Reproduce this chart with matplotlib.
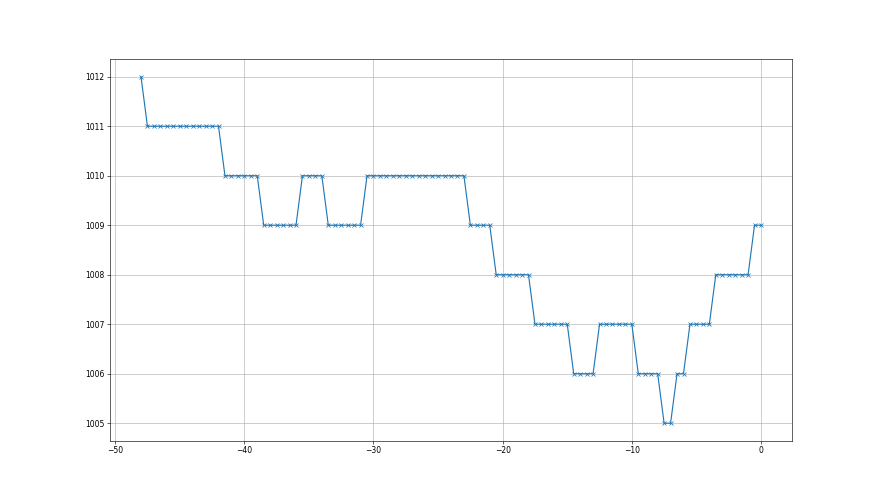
import numpy as np
import matplotlib
matplotlib.use("Agg")
import matplotlib.pyplot as plt

# Time offsets (hours), step 0.5 from -48 to 0
x_start = -48.0
x_step = 0.5

# Pressure values (hPa)
pressure = (
    [1012]
    + [1011] * 12
    + [1010] * 6
    + [1009] * 6
    + [1010] * 4
    + [1009] * 6
    + [1010] * 16
    + [1009] * 4
    + [1008] * 6
    + [1007] * 6
    + [1006] * 4
    + [1007] * 6
    + [1006] * 4
    + [1005] * 2
    + [1006] * 2
    + [1007] * 4
    + [1008] * 6
    + [1009] * 2
)
hours = [x_start + i * x_step for i in range(len(pressure))]

fig, ax = plt.subplots(figsize=(16, 9), dpi=55)
ax.plot(hours, pressure, marker="x", color="#1f77b4")
ax.grid(True)
fig.savefig("out.png", dpi=55)
